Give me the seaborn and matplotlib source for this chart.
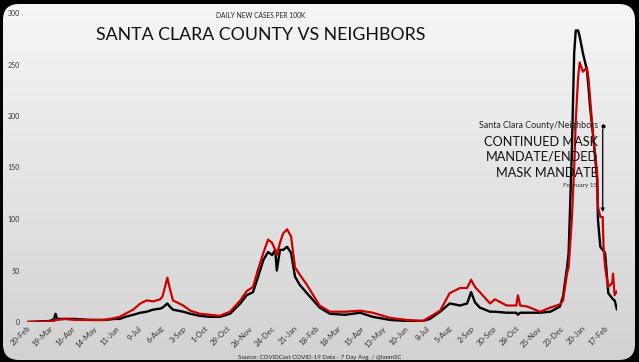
import pandas as pd
import numpy as np
import matplotlib.pyplot as plt
from matplotlib.colors import LinearSegmentedColormap
from matplotlib.patches import FancyBboxPatch
import seaborn as sns

# 数据：7 日平均每 10 万人新增病例
dates = [
    '2020-02-20', '2020-03-20', '2020-03-25', '2020-03-27', '2020-03-29', '2020-04-08',
    '2020-04-20', '2020-05-09', '2020-05-28', '2020-06-10', '2020-06-16', '2020-06-23',
    '2020-07-03', '2020-07-12', '2020-07-20', '2020-07-28', '2020-08-06', '2020-08-09',
    '2020-08-15', '2020-08-18', '2020-08-22', '2020-09-04', '2020-09-13', '2020-09-25',
    '2020-10-08', '2020-10-20', '2020-11-02', '2020-11-15', '2020-11-23', '2020-12-01',
    '2020-12-07', '2020-12-14', '2020-12-20', '2020-12-25', '2020-12-29', '2020-12-31',
    '2021-01-04', '2021-01-08', '2021-01-13', '2021-01-18', '2021-01-23', '2021-01-29',
    '2021-02-07', '2021-02-15', '2021-02-23', '2021-03-08', '2021-03-27', '2021-04-15',
    '2021-05-01', '2021-05-23', '2021-06-13', '2021-07-03', '2021-07-12', '2021-07-25',
    '2021-08-06', '2021-08-19', '2021-08-28', '2021-09-02', '2021-09-07', '2021-09-13',
    '2021-09-26', '2021-10-02', '2021-10-17', '2021-10-29', '2021-10-31', '2021-11-03',
    '2021-11-12', '2021-11-28', '2021-12-11', '2021-12-23', '2021-12-27', '2022-01-01',
    '2022-01-03', '2022-01-07', '2022-01-10', '2022-01-12', '2022-01-15', '2022-01-17',
    '2022-01-21', '2022-01-26', '2022-01-28', '2022-01-30', '2022-02-03', '2022-02-08',
    '2022-02-09', '2022-02-12', '2022-02-15', '2022-02-16', '2022-02-18', '2022-02-22',
    '2022-02-27', '2022-02-28', '2022-03-02', '2022-03-05',
]
santa_clara = [
    0, 1, 3, 8, 3, 3,
    3, 2, 2, 3, 3, 5,
    7, 9, 10, 12, 13, 14,
    18, 15, 12, 10, 8, 6,
    5, 5, 8, 18, 26, 29,
    43, 60, 68, 65, 70, 50,
    70, 70, 73, 67, 44, 36,
    28, 21, 14, 8, 7, 9,
    5, 2, 1, 1, 3, 10,
    18, 16, 18, 29, 19, 14,
    10, 10, 9, 9, 7, 9,
    9, 9, 10, 15, 25, 53,
    67, 164, 261, 283, 283, 277,
    261, 245, 228, 209, 180, 138,
    99, 73, 70, 69, 67, 28,
    23, 22, 21, 12,
]
neighbors = [
    0, 0.5, 1, 2, 2, 3,
    2, 2, 2, 4, 5, 8,
    12, 18, 21, 20, 22, 25,
    43, 33, 21, 16, 11, 8,
    7, 6, 10, 21, 30, 34,
    50, 67, 80, 77, 70, 65,
    77, 86, 90, 83, 53, 46,
    36, 26, 16, 10, 10, 11,
    9, 4, 2, 1, 5, 11,
    28, 33, 33, 41, 34, 29,
    18, 22, 16, 16, 26, 16,
    15, 10, 14, 17, 21, 47,
    53, 99, 150, 196, 238, 252,
    243, 247, 237, 218, 180, 145,
    112, 102, 102, 73, 53, 34,
    38, 47, 26, 30,
]
tick_labels = [
    '20-Feb', '19-Mar', '16-Apr', '14-May', '11-Jun', '9-Jul', '6-Aug', '3-Sep', '1-Oct',
    '29-Oct', '26-Nov', '24-Dec', '21-Jan', '18-Feb', '18-Mar', '15-Apr', '13-May', '10-Jun',
    '8-Jul', '5-Aug', '2-Sep', '30-Sep', '28-Oct', '25-Nov', '23-Dec', '20-Jan', '17-Feb',
]

df = pd.DataFrame({'date': pd.to_datetime(dates), 'sc': santa_clara, 'nb': neighbors})
tick_dates = pd.date_range('2020-02-20', periods=len(tick_labels), freq='28D')

sns.set_theme(style='white')
plt.rcParams['font.family'] = ['Lato', 'DejaVu Sans']

W, H = 639, 362
fig = plt.figure(figsize=(W / 100, H / 100), dpi=100, facecolor='black')

# 圆角渐变背景
bg = fig.add_axes([0, 0, 1, 1])
bg.set_xlim(0, W); bg.set_ylim(0, H); bg.axis('off')
grad = np.linspace(0, 1, 256).reshape(-1, 1)
cmap = LinearSegmentedColormap.from_list('g', ['#d2d2d2', '#f6f6f6'])
img = bg.imshow(grad, extent=[0, W, 0, H], origin='lower', aspect='auto', cmap=cmap)
panel = FancyBboxPatch((3, 2), 632, 356, boxstyle='round,pad=0,rounding_size=16',
                       facecolor='none', edgecolor='none')
bg.add_patch(panel)
img.set_clip_path(panel)

ax = fig.add_axes([27 / W, 40 / H, 590 / W, 309 / H])
ax.patch.set_alpha(0)
sns.lineplot(data=df, x='date', y='sc', ax=ax, color='black', lw=1.7)
sns.lineplot(data=df, x='date', y='nb', ax=ax, color='#cc0000', lw=1.6)
ax.set_xlim(pd.Timestamp('2020-02-20'), pd.Timestamp('2022-03-05'))
ax.set_ylim(0, 300)
ax.set_xticks(tick_dates)
ax.set_xticklabels(tick_labels, rotation=45, ha='right', rotation_mode='anchor',
                   fontsize=5.6, color='#333333')
ax.set_yticks(range(0, 301, 50))
ax.tick_params(axis='y', labelsize=5, labelcolor='#333333', length=0, pad=5)
ax.tick_params(axis='x', length=0, pad=2)
ax.set_xlabel(''); ax.set_ylabel('')
sns.despine(ax=ax, left=True, bottom=True)

# 2 月 15 日标注线
mark = pd.Timestamp('2022-02-15')
ax.annotate('', xy=(mark, 104), xytext=(mark, 190),
            arrowprops=dict(arrowstyle='-|>', lw=0.9, color='black', mutation_scale=5))
ax.plot([mark], [190], 'o', color='black', ms=2)

fig.text(261 / W, 1 - 15 / H, 'DAILY NEW CASES PER 100K', ha='center', va='center',
         fontsize=4.8, color='#222222')
fig.text(261 / W, 1 - 35 / H, 'SANTA CLARA COUNTY VS NEIGHBORS', ha='center', va='center',
         fontsize=12.8, color='#111111')
fig.text(598 / W, 1 - 126 / H, 'Santa Clara County/Neighbors', ha='right', va='center',
         fontsize=6.4, color='#222222')
for y, s in [(142, 'CONTINUED MASK'), (157, 'MANDATE/ENDED'), (173, 'MASK MANDATE')]:
    fig.text(598 / W, 1 - y / H, s, ha='right', va='center', fontsize=9.2, color='#111111')
fig.text(597 / W, 1 - 186 / H, 'February 15', ha='right', va='center', fontsize=4.6, color='#333333')
fig.text(320 / W, 1 - 357 / H, 'Source: COVIDCast COVID-19 Data - 7 Day Avg. / @IanmSC',
         ha='center', va='center', fontsize=4.4, color='#222222')

fig.savefig('out.png', dpi=100, facecolor='black')
